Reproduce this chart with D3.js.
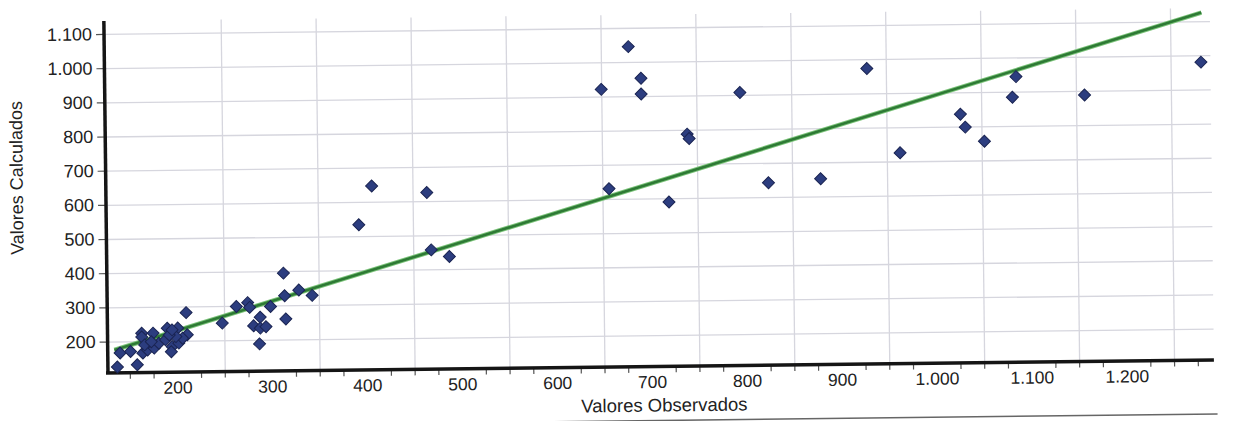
<!DOCTYPE html>
<meta charset="utf-8">
<script src="https://cdn.jsdelivr.net/npm/d3@7/dist/d3.min.js"></script>
<head>
<style>
    body { margin: 0; background: #fff; }
    text { font-family: "Liberation Sans", Arial, sans-serif; fill: #222; }
</style>
</head>
<body>
<script>

    var obsValues = [1282, 1087, 1083, 1159, 1028, 1033, 1053, 964,
        679, 650, 692, 692, 796, 930, 740, 742, 657, 720, 825, 880,
        407, 393, 465, 469, 488,
        313, 314, 329, 343, 299, 275, 263, 277, 248, 288, 281, 288, 294, 315, 287,
        137, 140, 151, 158, 163, 163, 175, 190, 201, 211, 210, 164, 169, 176,
        181, 188, 195, 194, 202, 206, 199, 192, 166, 173, 195];
    var calcValues = [980, 944, 884, 888, 836, 798, 756, 725,
        1045, 921, 952, 906, 907, 973, 787, 774, 630, 589, 642, 652,
        646, 533, 625, 457, 437,
        394, 328, 344, 328, 297, 309, 298, 295, 250, 266, 241, 234, 238, 260, 188,
        125, 166, 170, 131, 223, 212, 223, 237, 237, 217, 282, 165, 174, 179,
        193, 203, 183, 168, 193, 207, 212, 217, 189, 198, 232];

    // fitted line end points
    var trendObs = [134, 1283];
    var trendCalc = [175, 1125];

    var xLabelTicks = [200, 300, 400, 500, 600, 700, 800, 900, 1000, 1100, 1200];
    var xGridTicks = [250, 350, 450, 550, 650, 750, 850, 950, 1050, 1150, 1250];
    var yTicks = [200, 300, 400, 500, 600, 700, 800, 900, 1000, 1100];

    var svgWidth = 1234, svgHeight = 421;
    var plotLeft = 106, plotRight = 1212, plotTop = 15, plotBottom = 367;

    var locale = d3.formatLocale({decimal: ",", thousands: ".", grouping: [3], currency: ["", ""]});
    var fmt = locale.format(",d");

    var x = d3.scaleLinear().domain([127, 1292]).range([plotLeft, plotRight]);
    var y = d3.scaleLinear().domain([108, 1138]).range([plotBottom, plotTop]);

    var svg = d3.select("body").append("svg")
        .attr("width", svgWidth)
        .attr("height", svgHeight);

    // the scan is tilted a little
    var g = svg.append("g")
        .attr("transform", "rotate(-0.67, 617, 200)");

    // grid
    g.append("g")
        .attr("transform", "translate(0," + plotBottom + ")")
        .call(d3.axisBottom(x).tickValues(xGridTicks).tickSize(-(plotBottom - plotTop)).tickFormat(""))
        .call(function(s) {
            s.select(".domain").remove();
            s.selectAll("line").attr("stroke", "#d6d6de").attr("stroke-width", 1.3);
        });

    g.append("g")
        .attr("transform", "translate(" + plotLeft + ",0)")
        .call(d3.axisLeft(y).tickValues(yTicks).tickSize(-(plotRight - plotLeft)).tickFormat(""))
        .call(function(s) {
            s.select(".domain").remove();
            s.selectAll("line").attr("stroke", "#d6d6de").attr("stroke-width", 1.3);
        });

    // minor ticks under x axis
    var minor = d3.range(150, 1290, 25).filter(function(d) { return d % 100 !== 0; });
    g.append("g")
        .attr("transform", "translate(0," + plotBottom + ")")
        .call(d3.axisBottom(x).tickValues(minor).tickSize(6).tickFormat(""))
        .call(function(s) {
            s.select(".domain").remove();
            s.selectAll("line").attr("stroke", "#555").attr("stroke-width", 1.2);
        });

    // x labels
    g.append("g")
        .attr("transform", "translate(0," + plotBottom + ")")
        .call(d3.axisBottom(x).tickValues(xLabelTicks).tickSize(0).tickPadding(9).tickFormat(fmt))
        .call(function(s) {
            s.select(".domain").remove();
            s.selectAll("text").style("font-size", "17.5px").attr("fill", "#2a2a2a");
        });

    // y labels
    g.append("g")
        .attr("transform", "translate(" + plotLeft + ",0)")
        .call(d3.axisLeft(y).tickValues(yTicks).tickSize(8).tickPadding(4).tickFormat(fmt))
        .call(function(s) {
            s.select(".domain").remove();
            s.selectAll("line").attr("stroke", "#555").attr("stroke-width", 1.2);
            s.selectAll("text").style("font-size", "18px").attr("fill", "#2a2a2a");
        });

    // thick axis lines
    g.append("line")
        .attr("x1", plotLeft).attr("y1", plotTop)
        .attr("x2", plotLeft).attr("y2", plotBottom + 1)
        .style("stroke", "#151515")
        .style("stroke-width", 3.5);

    g.append("line")
        .attr("x1", plotLeft - 2).attr("y1", plotBottom)
        .attr("x2", plotRight).attr("y2", plotBottom)
        .style("stroke", "#151515")
        .style("stroke-width", 3.5);

    // fitted line
    var trend = trendObs.map(function(d, i) { return [d, trendCalc[i]]; });
    var trendLine = d3.line().x(function(d) { return x(d[0]); }).y(function(d) { return y(d[1]); });
    g.append("path")
        .datum(trend)
        .attr("d", trendLine)
        .style("fill", "none")
        .style("stroke", "#7cc47a")
        .style("stroke-width", 4.5);
    g.append("path")
        .datum(trend)
        .attr("d", trendLine)
        .style("fill", "none")
        .style("stroke", "#2e7a35")
        .style("stroke-width", 2.6);

    // points
    var diamond = d3.symbol().type(d3.symbolSquare).size(72);
    g.selectAll(".pt")
        .data(obsValues)
        .enter()
        .append("path")
        .attr("class", "pt")
        .attr("d", diamond)
        .attr("transform", function(d, i) {
            return "translate(" + x(d) + "," + y(calcValues[i]) + ") rotate(45)";
        })
        .style("fill", "#2c3d7f")
        .style("stroke", "#1a2452")
        .style("stroke-width", 1);

    // titles
    g.append("text")
        .attr("transform", "translate(23,171) rotate(-90)")
        .attr("text-anchor", "middle")
        .style("font-size", "18px")
        .attr("fill", "#2a2a2a")
        .text("Valores Calculados");

    g.append("text")
        .attr("x", 662)
        .attr("y", 412)
        .attr("text-anchor", "middle")
        .style("font-size", "18.5px")
        .attr("fill", "#2a2a2a")
        .text("Valores Observados");

    // page edge line of the scan
    g.append("line")
        .attr("x1", 0).attr("y1", 421)
        .attr("x2", 1215).attr("y2", 421)
        .style("stroke", "#666")
        .style("stroke-width", 1.5);

</script>
</body>
</html>
